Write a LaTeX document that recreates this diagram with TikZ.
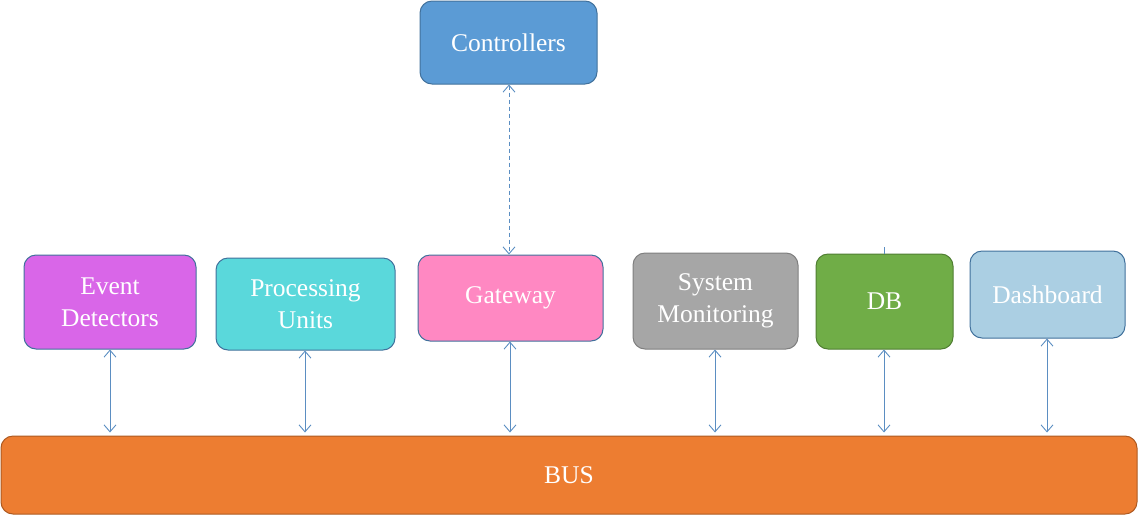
\documentclass[tikz,border=0pt]{standalone}
\usepackage{fontspec}
\setmainfont{Liberation Serif}
\usetikzlibrary{arrows.meta}
\definecolor{lnk}{HTML}{5B8EC2}
\definecolor{bd}{HTML}{41719C}
\definecolor{cctl}{HTML}{5B9BD5}
\definecolor{ced}{HTML}{D966E8}
\definecolor{cpu}{HTML}{5AD8DB}
\definecolor{cgw}{HTML}{FF88C2}
\definecolor{csm}{HTML}{A6A6A6}
\definecolor{bsm}{HTML}{7F7F7F}
\definecolor{cdb}{HTML}{70AD47}
\definecolor{bdb}{HTML}{507E32}
\definecolor{cdash}{HTML}{ABCFE3}
\definecolor{cbus}{HTML}{ED7D31}
\definecolor{bbus}{HTML}{AE5A21}
\tikzset{
  box/.style={draw=bd, line width=1pt, rounded corners=12pt, text=white, align=center,
    font=\fontsize{25.5}{32}\selectfont, inner sep=0pt},
  link/.style={draw=lnk, line width=0.9pt, {Straight Barb[length=7pt,width=12pt,line width=0.9pt]}-{Straight Barb[length=7pt,width=12pt,line width=0.9pt]}},
}
\begin{document}
\begin{tikzpicture}[x=1pt,y=-1pt]
\useasboundingbox (0,0) rectangle (1138,515);
\node[box, fill=cctl, minimum width=177pt, minimum height=83pt] (ctl) at (508.5,42.5) {Controllers};
\node[box, fill=ced, minimum width=172pt, minimum height=94pt] (ed) at (110,302) {Event\\Detectors};
\node[box, fill=cpu, minimum width=179pt, minimum height=92pt] (pu) at (305.5,304) {Processing\\Units};
\node[box, fill=cgw, minimum width=185pt, minimum height=86pt] (gw) at (510.5,298) {Gateway};
\node[box, fill=csm, draw=bsm, minimum width=165pt, minimum height=96pt] (sm) at (715.5,301) {System\\Monitoring};
\node[box, fill=cdb, draw=bdb, minimum width=137pt, minimum height=95pt] (db) at (884.5,301.5) {DB};
\node[box, fill=cdash, minimum width=155pt, minimum height=87pt] (dash) at (1047.5,294.5) {Dashboard};
\node[box, fill=cbus, draw=bbus, minimum width=1136pt, minimum height=78pt] (bus) at (569,475) {BUS};

\coordinate (c1) at (509,0 |- ctl.south);
\draw[link, dash pattern=on 4pt off 3pt] (c1) -- (c1 |- gw.north);
\foreach \n/\x in {ed/110, pu/305, gw/510, sm/715, db/884, dash/1047}{
  \draw[link, shorten >=3pt] (\x,0 |- \n.south) -- (\x,0 |- bus.north);
}
\draw[draw=lnk, line width=0.8pt] (db.north) -- ++(0,-7) coordinate (tick);
\end{tikzpicture}
\end{document}
